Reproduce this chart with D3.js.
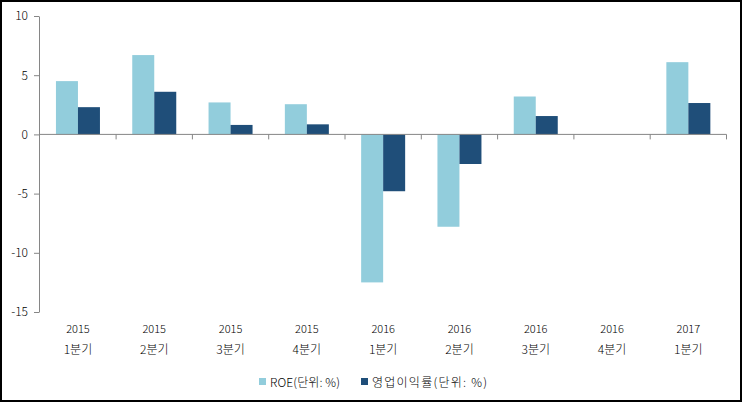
<!DOCTYPE html>
<html>
<head>
 <meta charset="UTF-8">
 <script src="https://cdn.jsdelivr.net/npm/d3@7"></script>
 <style>
body { margin: 0; background: #fff; }
svg { display: block; font-family: "Noto Sans CJK KR", "DejaVu Sans", sans-serif; font-weight: 300; }
.axis path, .axis line { stroke: #868686; }
.axis text { fill: #000; font-size: 12px; }
 </style>
</head>
<body>
<svg width="743" height="403"></svg>
<script>
var years = ["2015", "2015", "2015", "2015", "2016", "2016", "2016", "2016", "2017"];
var quarters = ["1분기", "2분기", "3분기", "4분기", "1분기", "2분기", "3분기", "4분기", "1분기"];
var roe = [4.5, 6.7, 2.7, 2.55, -12.5, -7.8, 3.2, 0, 6.1];
var opMargin = [2.3, 3.6, 0.8, 0.85, -4.8, -2.5, 1.55, 0, 2.65];
var seriesNames = ["ROE(단위: %)", "영업이익률(단위: %)"];
var colors = ["#92cddc", "#1f4e79"];
var yTicks = [-15, -10, -5, 0, 5, 10];

var svg = d3.select("svg");

// outer frame
svg.append("rect")
  .attr("x", 1).attr("y", 1)
  .attr("width", 740).attr("height", 400)
  .attr("fill", "none").attr("stroke", "#000").attr("stroke-width", 2);

var idx = d3.range(years.length);
var x = d3.scaleBand().domain(idx).range([39.8, 726.5]);
var y = d3.scaleLinear().domain([-15, 10]).range([312, 16]);
var barW = 22;

var series = [roe, opMargin];
series.forEach(function(vals, s) {
  svg.append("g").selectAll("rect")
    .data(idx)
    .enter().append("rect")
    .attr("x", function(i) { return x(i) + x.bandwidth() / 2 - barW + s * barW; })
    .attr("width", barW)
    .attr("y", function(i) { return y(Math.max(0, vals[i])); })
    .attr("height", function(i) { return Math.abs(y(vals[i]) - y(0)); })
    .attr("fill", colors[s]);
});

// y axis
svg.append("g")
  .attr("class", "axis")
  .attr("transform", "translate(39,0)")
  .call(d3.axisLeft(y).tickValues(yTicks).tickSize(5).tickSizeOuter(0).tickPadding(6)
    .tickFormat(function(d) { return String(d); }))
  .attr("font-family", null);

// x axis along zero, ticks at category boundaries
var xg = svg.append("g").attr("class", "axis");
xg.append("line")
  .attr("x1", 39).attr("x2", 726.5)
  .attr("y1", y(0)).attr("y2", y(0));
xg.selectAll(".bt")
  .data(d3.range(1, years.length + 1))
  .enter().append("line")
  .attr("x1", function(i) { return x(0) + i * x.step(); })
  .attr("x2", function(i) { return x(0) + i * x.step(); })
  .attr("y1", y(0)).attr("y2", y(0) + 5);

// category labels
var lab = svg.append("g").attr("font-size", "11px").attr("text-anchor", "middle");
lab.selectAll(".yr")
  .data(idx).enter().append("text")
  .attr("x", function(i) { return x(i) + x.bandwidth() / 2; })
  .attr("y", 333)
  .text(function(i) { return years[i]; });
lab.selectAll(".q")
  .data(idx).enter().append("text")
  .attr("x", function(i) { return x(i) + x.bandwidth() / 2; })
  .attr("y", 354)
  .style("font-size", "12px")
  .text(function(i) { return quarters[i]; });

// legend
var legX = [259, 361];
var legW = [70, 115];
var leg = svg.append("g").attr("font-size", "12px");
seriesNames.forEach(function(name, s) {
  leg.append("rect")
    .attr("x", legX[s]).attr("y", 378)
    .attr("width", 7).attr("height", 7)
    .attr("fill", colors[s]);
  leg.append("text")
    .attr("x", legX[s] + 11).attr("y", 387)
    .attr("textLength", legW[s])
    .attr("lengthAdjust", "spacing")
    .text(name);
});
</script>
</body>
</html>
